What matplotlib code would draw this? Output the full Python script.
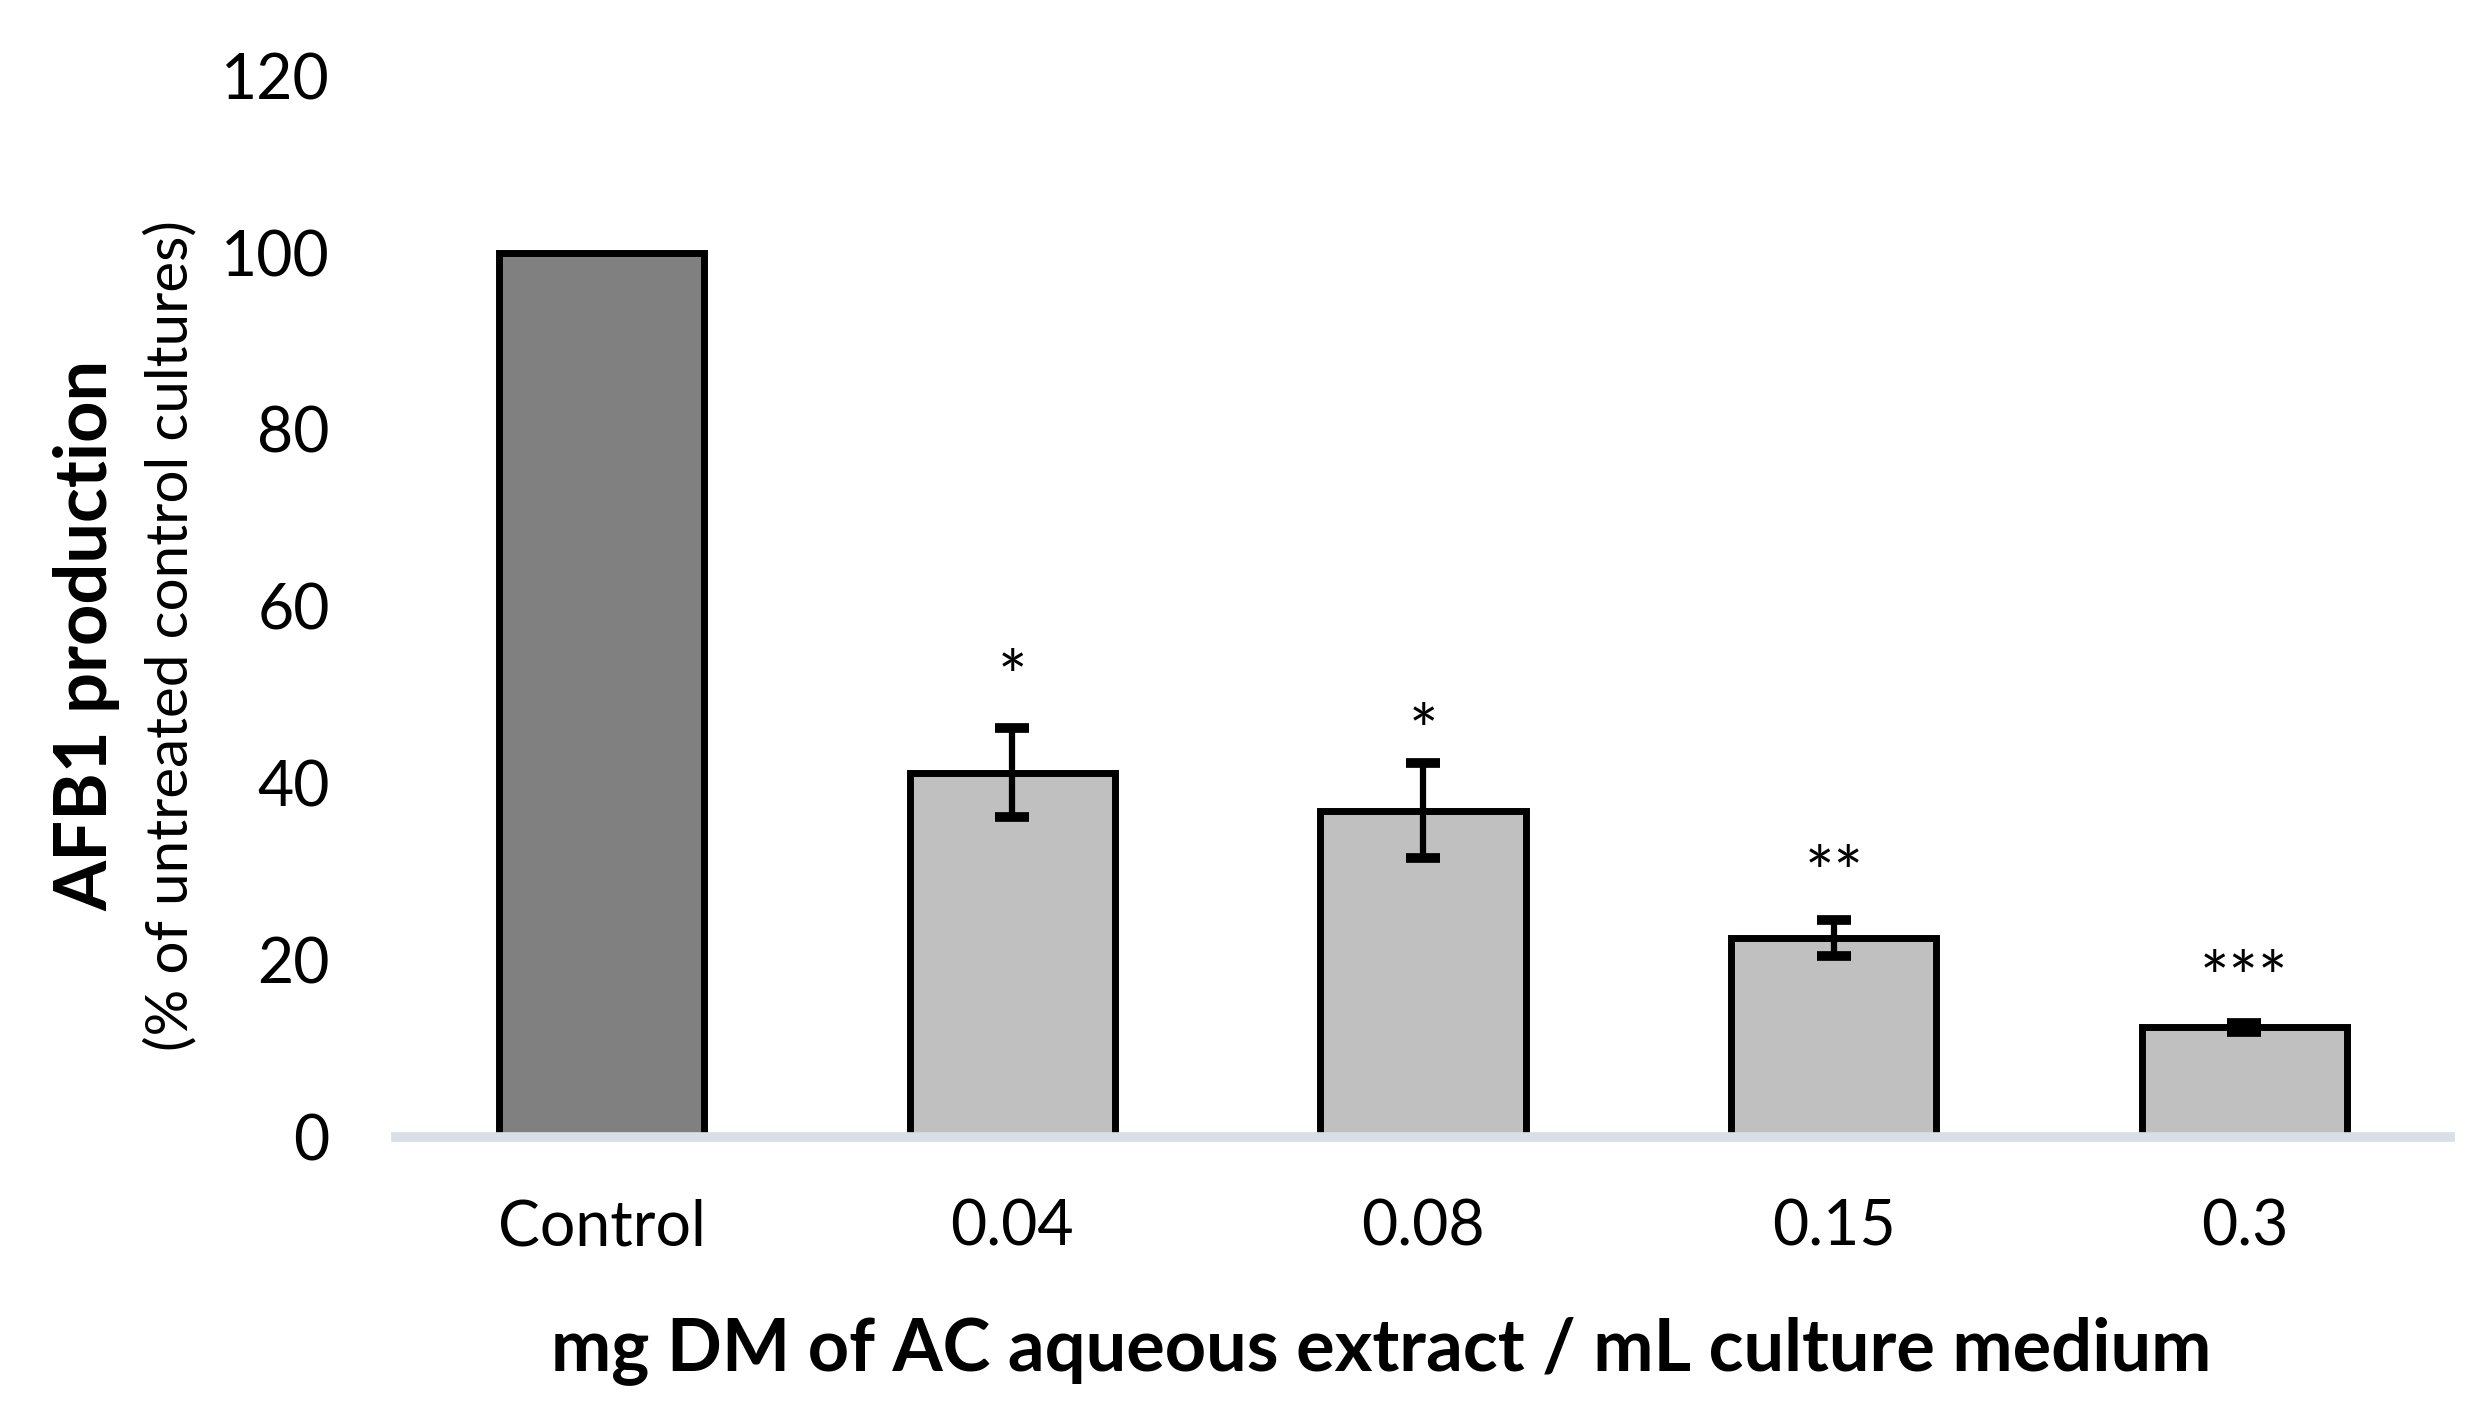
import matplotlib
matplotlib.use("Agg")
import matplotlib.pyplot as plt

# values
categories = ["Control", "0.04", "0.08", "0.15", "0.3"]
means = [100, 41.2, 36.9, 22.5, 12.4]
errors = [0, 5.0, 5.4, 2.0, 0.5]
stars = ["", "*", "*", "**", "***"]
star_y = [0, 51.5, 45.4, 29.4, 17.5]
colors = ["#808080", "#C0C0C0", "#C0C0C0", "#C0C0C0", "#C0C0C0"]

plt.rcParams['font.family'] = ['Lato', 'DejaVu Sans']

fig = plt.figure(figsize=(24.77, 14.02), dpi=100)
ax = fig.add_axes([0.1600, 0.189, 0.8290, 0.757])

x = list(range(len(categories)))
ax.bar(x, means, width=0.5, color=colors, edgecolor="black", linewidth=5, zorder=1)

# error bars only for treated cultures
ex = [i for i in x if errors[i] > 0]
ax.errorbar(ex, [means[i] for i in ex], yerr=[errors[i] for i in ex], fmt="none",
            ecolor="black", elinewidth=4.5, capsize=12, capthick=7, zorder=3)

for i in x:
    if stars[i]:
        ax.text(i, star_y[i], stars[i], ha="center", va="center", fontsize=50)

ax.set_xlim(-0.5, 4.5)
ax.set_ylim(0, 120)
ax.set_yticks([0, 20, 40, 60, 80, 100, 120])
ax.set_xticks(x)
ax.set_xticklabels(categories)

for s in ["top", "right", "left"]:
    ax.spines[s].set_visible(False)
ax.spines["bottom"].set_color("#D9DFE6")
ax.spines["bottom"].set_linewidth(7)
ax.tick_params(axis="both", length=0, labelsize=45)
ax.tick_params(axis="y", pad=48)
ax.tick_params(axis="x", pad=44)

fig.text(0.5575, 0.037, "mg DM of AC aqueous extract / mL culture medium",
         ha="center", va="center", fontsize=52, fontweight="bold")
fig.text(0.035, 0.547, "AFB1 production", rotation=90, ha="center", va="center",
         fontsize=52, fontweight="bold")
fig.text(0.069, 0.547, "(% of untreated control cultures)", rotation=90,
         ha="center", va="center", fontsize=42)

fig.savefig("out.png", dpi=100)
